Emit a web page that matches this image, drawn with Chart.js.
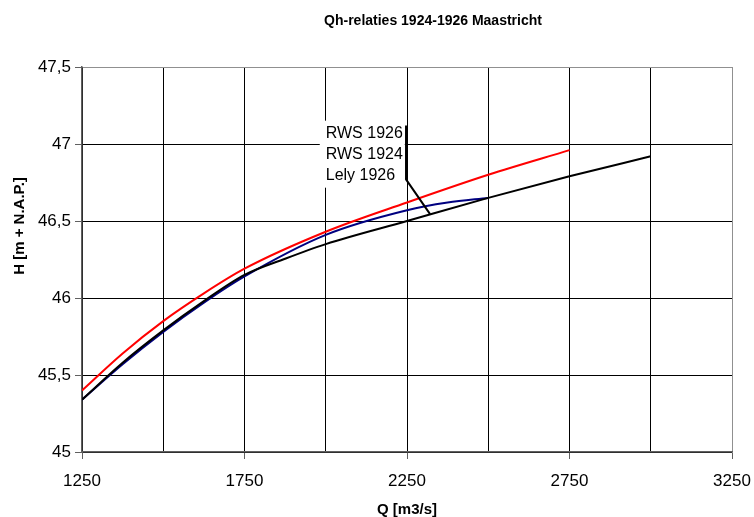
<!DOCTYPE html>
<html lang="nl">
<head>
<meta charset="utf-8">
<title>Qh-relaties 1924-1926 Maastricht</title>
<script src="https://cdn.jsdelivr.net/npm/chart.js@4.4.1/dist/chart.umd.min.js"></script>
<style>
  html, body { margin: 0; padding: 0; background: #fff; }
  #graphique-qh { display: block; }
</style>
</head>
<body>
<canvas id="graphique-qh" width="754" height="517"></canvas>
<script>
/** Les séries : [Q m3/s, H m+NAP] */
const rws1926 = [[1250, 45.40], [1375, 45.64], [1500, 45.85], [1625, 46.03], [1750, 46.19],
  [2000, 46.43], [2250, 46.62], [2500, 46.80], [2750, 46.96]];
const lely1926 = [[1250, 45.34], [1375, 45.58], [1500, 45.79], [1625, 45.98], [1750, 46.15],
  [1875, 46.255], [2000, 46.35], [2250, 46.50], [2500, 46.65], [2750, 46.79], [3000, 46.92]];
const rws1924 = [[1250, 45.34], [1375, 45.57], [1500, 45.78], [1625, 45.97], [1750, 46.14],
  [2000, 46.41], [2250, 46.57], [2375, 46.62], [2500, 46.65]];

const seriesLabels = ['RWS 1926', 'RWS 1924', 'Lely 1926'];
const xTicks = [1250, 1750, 2250, 2750, 3250];
const yTicks = ['45', '45,5', '46', '46,5', '47', '47,5'];

/** Position de l'étiquette et de son trait de rappel (en valeurs Q / H) */
const labelAnchor = [2000, 47.08];
const leaderLine = [[2247, 47.12], [2247, 46.77], [2321, 46.545]];

const toXY = function(serie) {
  return serie.map(p => ({ x: p[0], y: p[1] }));
};

/** Titre, titres des axes et étiquette des séries */
const habillage = {
  id: 'habillage',
  afterDatasetsDraw(chart) {
    const { ctx, scales: { x, y } } = chart;
    ctx.save();

    // boîte blanche de l'étiquette
    const bx = x.getPixelForValue(labelAnchor[0]);
    const by = y.getPixelForValue(labelAnchor[1]);
    ctx.fillStyle = '#fff';
    ctx.fillRect(bx - 6, by - 11, 85, 67);

    ctx.fillStyle = '#000';
    ctx.font = '16px "Liberation Sans", Arial, sans-serif';
    ctx.textBaseline = 'alphabetic';
    ctx.textAlign = 'left';
    seriesLabels.forEach((txt, i) => {
      ctx.fillText(txt, bx, by + 6 + i * 21);
    });

    // trait de rappel
    ctx.strokeStyle = '#000';
    ctx.lineWidth = 2;
    ctx.beginPath();
    leaderLine.forEach((p, i) => {
      const px = x.getPixelForValue(p[0]);
      const py = y.getPixelForValue(p[1]);
      if (i === 0) ctx.moveTo(px, py); else ctx.lineTo(px, py);
    });
    ctx.stroke();
    ctx.restore();
  },
  afterDraw(chart) {
    const { ctx, chartArea } = chart;
    ctx.save();
    ctx.fillStyle = '#000';
    ctx.textAlign = 'center';
    ctx.textBaseline = 'middle';

    ctx.font = 'bold 14px "Liberation Sans", Arial, sans-serif';
    ctx.fillText('Qh-relaties 1924-1926 Maastricht', 433, 21);

    ctx.font = 'bold 15px "Liberation Sans", Arial, sans-serif';
    ctx.fillText('Q [m3/s]', (chartArea.left + chartArea.right) / 2, 510);

    ctx.translate(20, 226);
    ctx.rotate(-Math.PI / 2);
    ctx.fillText('H [m + N.A.P.]', 0, 0);
    ctx.restore();
  }
};

const ligne = function(label, data, color) {
  return {
    label, data: toXY(data), borderColor: color, backgroundColor: color,
    borderWidth: 2, pointRadius: 0, showLine: true,
    cubicInterpolationMode: 'monotone', fill: false
  };
};

const ctx = document.getElementById('graphique-qh').getContext('2d');
new Chart(ctx, {
  type: 'scatter',
  data: {
    datasets: [
      ligne(seriesLabels[0], rws1926, '#ff0000'),
      ligne(seriesLabels[2], lely1926, '#000000'),
      ligne(seriesLabels[1], rws1924, '#000080')
    ]
  },
  options: {
    responsive: false,
    animation: false,
    layout: { padding: { top: 67, right: 22, bottom: 0, left: 0 } },
    plugins: { legend: { display: false }, title: { display: false }, tooltip: { enabled: false } },
    scales: {
      x: {
        type: 'linear', min: 1250, max: 3250,
        afterFit: s => { s.height = 65; s.paddingLeft = 0; s.paddingRight = 0; },
        border: { color: '#606060', width: 1.5 },
        grid: {
          color: c => (c.tick && c.tick.value === 3250 ? '#909090' : '#000'),
          lineWidth: 1, tickLength: 7,
          tickColor: c => (c.tick && xTicks.includes(c.tick.value) ? '#606060' : 'rgba(0,0,0,0)')
        },
        ticks: {
          stepSize: 250, padding: 12, maxRotation: 0, autoSkip: false,
          color: '#000', font: { family: '"Liberation Sans", Arial, sans-serif', size: 17 },
          callback: v => (xTicks.includes(v) ? String(v) : '')
        }
      },
      y: {
        type: 'linear', min: 45, max: 47.5,
        afterFit: s => { s.width = 82; s.paddingTop = 0; s.paddingBottom = 0; },
        border: { color: '#606060', width: 1.5 },
        grid: {
          color: c => (c.tick && c.tick.value === 47.5 ? '#909090' : '#000'),
          lineWidth: 1, tickLength: 7, tickColor: '#606060'
        },
        ticks: {
          stepSize: 0.5, padding: 4,
          color: '#000', font: { family: '"Liberation Sans", Arial, sans-serif', size: 17 },
          callback: v => yTicks[Math.round((v - 45) * 2)]
        }
      }
    }
  },
  plugins: [habillage]
});
</script>
</body>
</html>
